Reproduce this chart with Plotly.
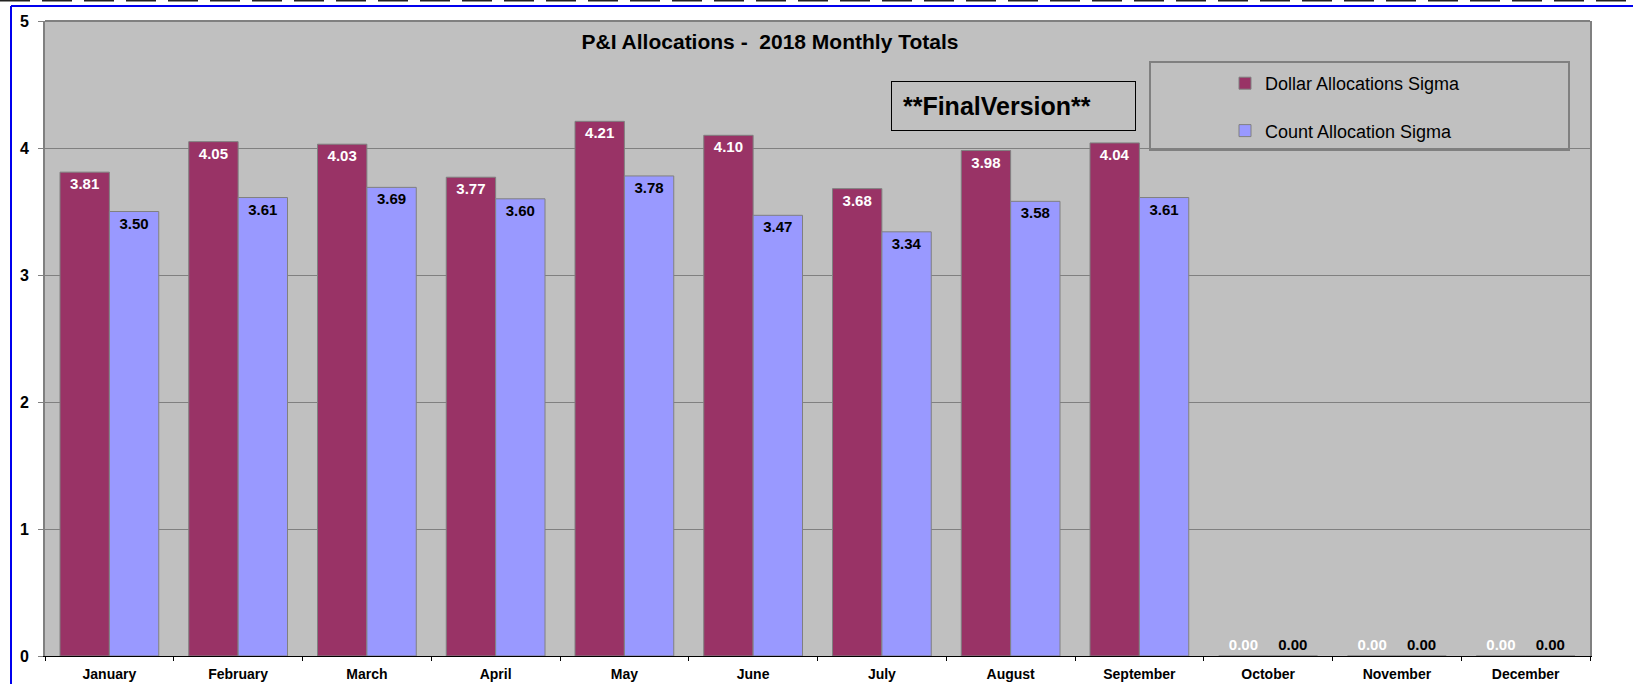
import plotly.graph_objects as go

months = ["January", "February", "March", "April", "May", "June", "July",
          "August", "September", "October", "November", "December"]
dollar_sigma = [3.81, 4.05, 4.03, 3.77, 4.21, 4.10, 3.68, 3.98, 4.04, 0.00, 0.00, 0.00]
count_sigma = [3.50, 3.61, 3.69, 3.60, 3.78, 3.47, 3.34, 3.58, 3.61, 0.00, 0.00, 0.00]
y_ticks = [0, 1, 2, 3, 4, 5]

FONT = "Liberation Sans, Arial, sans-serif"
W, H = 1633, 684
L, R, T, B = 45, 43, 21, 28
PW, PH = W - L - R, H - T - B


def px_x(x):
    return (x - L) / PW


def px_y(y):
    return 1 - (y - T) / PH


def tpos(vals):
    return ["inside" if v > 0 else "outside" for v in vals]


LABEL = 15

fig = go.Figure()
fig.add_trace(go.Bar(
    name="Dollar Allocations Sigma", x=months, y=dollar_sigma,
    marker=dict(color="#993366", line=dict(color="#808080", width=1)),
    text=[f"{v:.2f}" for v in dollar_sigma], textposition=tpos(dollar_sigma),
    insidetextanchor="end", textangle=0, constraintext="none",
    textfont=dict(family=FONT, size=LABEL, color="white", weight="bold"),
    outsidetextfont=dict(family=FONT, size=LABEL, color="white", weight="bold"),
    legendgroup="a", cliponaxis=False,
))
fig.add_trace(go.Bar(
    name="Count Allocation Sigma", x=months, y=count_sigma,
    marker=dict(color="#9999FF", line=dict(color="#808080", width=1)),
    text=[f"{v:.2f}" for v in count_sigma], textposition=tpos(count_sigma),
    insidetextanchor="end", textangle=0, constraintext="none",
    textfont=dict(family=FONT, size=LABEL, color="black", weight="bold"),
    outsidetextfont=dict(family=FONT, size=LABEL, color="black", weight="bold"),
    legendgroup="b", cliponaxis=False,
))

shapes = [
    # legend box
    dict(type="rect", xref="paper", yref="paper",
         x0=px_x(1150), x1=px_x(1569), y0=px_y(150), y1=px_y(62),
         line=dict(color="#808080", width=2), fillcolor="#C0C0C0", layer="below"),
    # plot area top border
    dict(type="line", xref="paper", yref="paper", x0=0, x1=1, y0=1, y1=1,
         line=dict(color="#808080", width=2)),
    # outer blue frame
    dict(type="line", xref="paper", yref="paper",
         x0=px_x(11), x1=px_x(1640), y0=px_y(6), y1=px_y(6),
         line=dict(color="#0000EE", width=2)),
    dict(type="line", xref="paper", yref="paper",
         x0=px_x(11), x1=px_x(11), y0=px_y(6), y1=px_y(690),
         line=dict(color="#0000EE", width=2)),
    # dashed strip at very top
    dict(type="line", xref="paper", yref="paper",
         x0=px_x(0), x1=px_x(1633), y0=px_y(0.5), y1=px_y(0.5),
         line=dict(color="#222222", width=2, dash="30px,12px")),
]

annotations = [
    dict(text="\u00a0**FinalVersion**", xref="paper", yref="paper",
         x=px_x(1013.5), y=px_y(106), xanchor="center", yanchor="middle",
         showarrow=False, width=235, height=40, align="left",
         bordercolor="black", borderwidth=1, borderpad=4, bgcolor="#C0C0C0",
         font=dict(family=FONT, size=25, color="black", weight="bold")),
]

fig.update_layout(
    width=W, height=H,
    margin=dict(l=L, r=R, t=T, b=B),
    paper_bgcolor="white", plot_bgcolor="#C0C0C0",
    barmode="group", bargap=0.233, bargroupgap=0,
    font=dict(family=FONT, color="black"),
    title=dict(text="P&I Allocations -\u00a0 2018 Monthly Totals",
               xref="paper", yref="paper", x=px_x(770), xanchor="center",
               y=px_y(42), yanchor="middle",
               font=dict(family=FONT, size=21, color="black", weight="bold")),
    legend=dict(x=px_x(1225), y=px_y(65), xanchor="left", yanchor="top",
                bgcolor="rgba(0,0,0,0)", borderwidth=0,
                traceorder="grouped", tracegroupgap=21,
                font=dict(family=FONT, size=18, color="black"),
                itemwidth=30),
    xaxis=dict(type="category", showgrid=False, tickson="boundaries",
               ticks="outside", ticklen=4, tickcolor="black",
               showline=True, linecolor="black", linewidth=1,
               tickfont=dict(family=FONT, size=14, color="black", weight="bold"),
               ticklabelstandoff=5, automargin=False, fixedrange=True),
    yaxis=dict(range=[0, 5], tickvals=y_ticks, showgrid=True,
               gridcolor="#808080", gridwidth=1, zeroline=False,
               ticks="outside", ticklen=5, tickcolor="#808080",
               showline=True, linecolor="#808080", linewidth=2, mirror=True,
               tickfont=dict(family=FONT, size=16, color="black", weight="bold"),
               ticklabelstandoff=6, automargin=False, fixedrange=True),
    shapes=shapes, annotations=annotations,
)

fig.write_html("out.html", config={"displayModeBar": False},
               post_script="document.body.style.margin='0';document.body.style.overflow='hidden';")
